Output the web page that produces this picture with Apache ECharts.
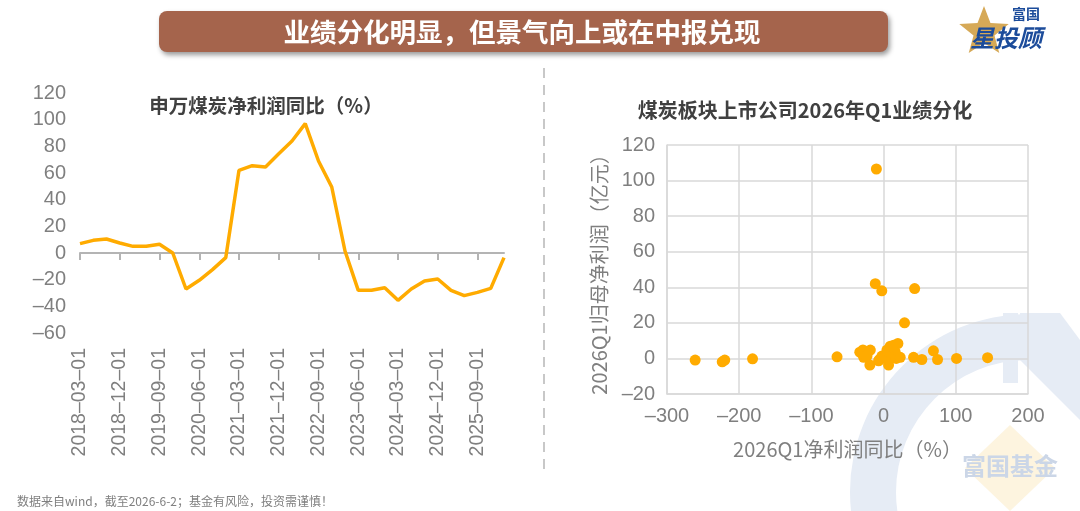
<!DOCTYPE html>
<html>
<head>
<meta charset="utf-8">
<script src="https://cdn.jsdelivr.net/npm/echarts@6.0.0/dist/echarts.min.js"></script>
<style>
	html, body { margin: 0; padding: 0; background: #fff; }
	#chart { width: 1080px; height: 511px; }
</style>
</head>
<body>
<div id="chart"></div>
<script>
// 申万煤炭净利润同比 quarterly
const quarters = [
	'2018-03-01', '2018-06-01', '2018-09-01', '2018-12-01',
	'2019-03-01', '2019-06-01', '2019-09-01', '2019-12-01',
	'2020-03-01', '2020-06-01', '2020-09-01', '2020-12-01',
	'2021-03-01', '2021-06-01', '2021-09-01', '2021-12-01',
	'2022-03-01', '2022-06-01', '2022-09-01', '2022-12-01',
	'2023-03-01', '2023-06-01', '2023-09-01', '2023-12-01',
	'2024-03-01', '2024-06-01', '2024-09-01', '2024-12-01',
	'2025-03-01', '2025-06-01', '2025-09-01', '2025-12-01',
	'2026-03-01'
]
const profitYoy = [
	7, 9.5, 10.5, 7.5, 5, 5, 6.5, 0,
	-27, -20.5, -12.5, -3.5, 62, 65.5, 64.5, 74.5,
	84, 97, 69, 49.5, 1.5, -28, -28, -26,
	-35.5, -27, -21, -19.5, -28, -32, -29.5, -26.5,
	-3.5
]

// 2026Q1 scatter: x = 净利润同比 (%), y = 归母净利润 (亿元)
const q1Growth = [
	-261, -223.5, -220, -181.5, -64.5, -10, -11.5, -2.5, 43, 29,
	-33, -28.6, -18.4, -27.6, -23, -19, -5.5, -6.9, -2.3, 2.3,
	4.6, 9.2, 13.8, 19.8, 16, 6.9, 11.5, 17.5, 23, 41.5,
	53, 69, 74.7, 101, 144
]
const q1Profit = [
	-0.9, -1.9, -0.9, -0.2, 0.9, 106.5, 42, 38, 39.3, 20,
	3.5, 4.8, 4.7, 0.6, 1.3, -3.7, -0.6, -1.3, 1.3, 0.6,
	4.7, 6.9, 7.4, 8.4, 3.7, -3.7, 0.6, 0, 0.6, 0.6,
	-0.6, 4.3, -0.6, 0, 0.4
]

const ORANGE = '#ffab00'
const GRAY = '#7f7f7f'
const LINE_GRAY = '#d9d9d9'
const ZERO_GRAY = '#b4b4b4'
const NUM_FONT = 'Liberation Sans, Arial, sans-serif'
const CJK_FONT = '"Noto Sans CJK SC", sans-serif'

// excel-style dash in numbers
const dashFmt = v => String(v).replace(/-/g, '–')

const chart = echarts.init(document.getElementById('chart'))

// star polygon for logo
const starPts = []
for (let i = 0; i < 10; i++) {
	const r = i % 2 === 0 ? 26 : 11
	const a = -Math.PI / 2 + i * Math.PI / 5
	starPts.push([984 + r * Math.cos(a), 32 + r * Math.sin(a)])
}

const option = {
	animation: false,
	backgroundColor: '#fff',
	title: [
		{
			text: '申万煤炭净利润同比（%）',
			left: 261, top: 91, textAlign: 'center',
			textStyle: { fontSize: 19.5, fontWeight: 'bold', color: '#404040', fontFamily: CJK_FONT }
		},
		{
			text: '煤炭板块上市公司2026年Q1业绩分化',
			left: 800, top: 95, textAlign: 'center',
			textStyle: { fontSize: 20, fontWeight: 'bold', color: '#404040', fontFamily: CJK_FONT }
		}
	],
	grid: [
		{ left: 80, top: 93, width: 424, height: 240 },
		{ left: 667, top: 145, width: 361, height: 249 }
	],
	xAxis: [
		{
			// zero line with ticks; labels stay at the grid bottom
			type: 'category', gridIndex: 0, data: quarters, boundaryGap: false,
			z: 2,
			axisLine: { show: true, onZero: true, lineStyle: { color: ZERO_GRAY, width: 2, opacity: 1 } },
			axisTick: { show: true, interval: 2, length: 7, lineStyle: { color: ZERO_GRAY, width: 2, opacity: 1 } },
			axisLabel: {
				rotate: 90, interval: 2, margin: 15,
				fontSize: 19.5, color: GRAY, fontFamily: NUM_FONT,
				formatter: dashFmt
			},
			splitLine: { show: false }
		},
		{
			type: 'value', gridIndex: 1, min: -300, max: 200, interval: 100,
			axisLine: { show: true, onZero: false, lineStyle: { color: LINE_GRAY, width: 1.5 } },
			axisTick: { show: false },
			splitLine: { show: true, lineStyle: { color: LINE_GRAY, width: 1.5 } },
			axisLabel: { fontSize: 20, color: GRAY, margin: 12, fontFamily: NUM_FONT, formatter: dashFmt },
			name: '2026Q1净利润同比（%）',
			nameLocation: 'middle', nameGap: 45,
			nameTextStyle: { fontSize: 20, color: GRAY, fontFamily: CJK_FONT }
		}
	],
	yAxis: [
		{
			type: 'value', gridIndex: 0, min: -60, max: 120, interval: 20,
			axisLine: { show: false },
			axisTick: { show: false },
			splitLine: { show: false },
			axisLabel: { fontSize: 20, color: GRAY, margin: 14, fontFamily: NUM_FONT, formatter: dashFmt }
		},
		{
			type: 'value', gridIndex: 1, min: -20, max: 120, interval: 20,
			axisLine: { show: true, onZero: false, lineStyle: { color: LINE_GRAY, width: 1.5 } },
			axisTick: { show: false },
			splitLine: { show: true, lineStyle: { color: LINE_GRAY, width: 1.5 } },
			axisLabel: { fontSize: 20, color: GRAY, margin: 12, fontFamily: NUM_FONT, formatter: dashFmt },
			name: '2026Q1归母净利润（亿元）',
			nameLocation: 'middle', nameRotate: 90, nameGap: 58,
			nameTextStyle: { fontSize: 20, color: GRAY, fontFamily: CJK_FONT }
		}
	],
	series: [
		{
			type: 'line', xAxisIndex: 0, yAxisIndex: 0,
			data: profitYoy,
			showSymbol: false, symbol: 'none',
			lineStyle: { color: ORANGE, width: 3.5 },
			z: 3
		},
		{
			type: 'scatter', xAxisIndex: 1, yAxisIndex: 1,
			data: q1Growth.map((g, i) => [g, q1Profit[i]]),
			symbolSize: 11,
			itemStyle: { color: ORANGE, opacity: 1 },
			z: 3
		}
	],
	graphic: [
		// watermark (bottom right)
		{
			type: 'sector', z: -10, silent: true,
			shape: { cx: 1028, cy: 492, r0: 132, r: 178, startAngle: Math.PI / 2, endAngle: Math.PI * 1.5, clockwise: true },
			style: { fill: '#e6ecf5' }
		},
		{
			type: 'rect', z: -10, silent: true,
			shape: { x: 1003, y: 313, width: 15, height: 70 },
			style: { fill: '#e6ecf5' }
		},
		{
			type: 'polygon', z: -10, silent: true,
			shape: { points: [[1020, 313], [1060, 313], [1080, 340], [1080, 420], [1020, 360]] },
			style: { fill: '#e6ecf5' }
		},
		{
			type: 'polygon', z: -10, silent: true,
			shape: { points: [[1010, 425], [1055, 468], [1010, 511], [965, 468]] },
			style: { fill: '#fdf4df' }
		},
		{
			type: 'text', z: -9, silent: true,
			x: 1010, y: 466,
			style: {
				text: '富国基金', fill: '#cbd6e7',
				font: 'bold 24px "Noto Sans CJK SC"',
				align: 'center', verticalAlign: 'middle',
				textAlign: 'center', textVerticalAlign: 'middle'
			}
		},
		// banner
		{
			type: 'rect',
			shape: { x: 159, y: 11, width: 729, height: 41, r: 8 },
			style: {
				fill: '#a5644c',
				shadowBlur: 5, shadowOffsetX: 2, shadowOffsetY: 3,
				shadowColor: 'rgba(0,0,0,0.4)'
			}
		},
		{
			type: 'text',
			x: 522, y: 32,
			style: {
				text: '业绩分化明显，但景气向上或在中报兑现', fill: '#fff',
				font: 'bold 26.5px "Noto Sans CJK SC"',
				align: 'center', verticalAlign: 'middle',
				textAlign: 'center', textVerticalAlign: 'middle'
			}
		},
		// separator
		{
			type: 'line',
			shape: { x1: 544, y1: 68, x2: 544, y2: 472 },
			style: { stroke: '#c8c8c8', lineWidth: 2, lineDash: [10, 7] }
		},
		// logo
		{
			type: 'polygon',
			shape: { points: starPts },
			style: { fill: '#d6a957' }
		},
		{
			type: 'text', x: 1012, y: 14,
			style: {
				text: '富国', fill: '#1c4c9b',
				font: 'bold 14px "Noto Sans CJK SC"',
				align: 'left', verticalAlign: 'middle',
				textAlign: 'left', textVerticalAlign: 'middle'
			}
		},
		{
			type: 'text', x: 970, y: 38,
			style: {
				text: '星投顾', fill: '#1c4c9b',
				font: 'italic bold 24px "Noto Sans CJK SC"',
				align: 'left', verticalAlign: 'middle',
				textAlign: 'left', textVerticalAlign: 'middle'
			}
		},
		// footer
		{
			type: 'text', x: 17, y: 501,
			style: {
				text: '数据来自wind，截至2026-6-2；基金有风险，投资需谨慎！', fill: GRAY,
				font: '12px "Noto Sans CJK SC"',
				align: 'left', verticalAlign: 'middle',
				textAlign: 'left', textVerticalAlign: 'middle'
			}
		}
	]
}

chart.setOption(option)
</script>
</body>
</html>
